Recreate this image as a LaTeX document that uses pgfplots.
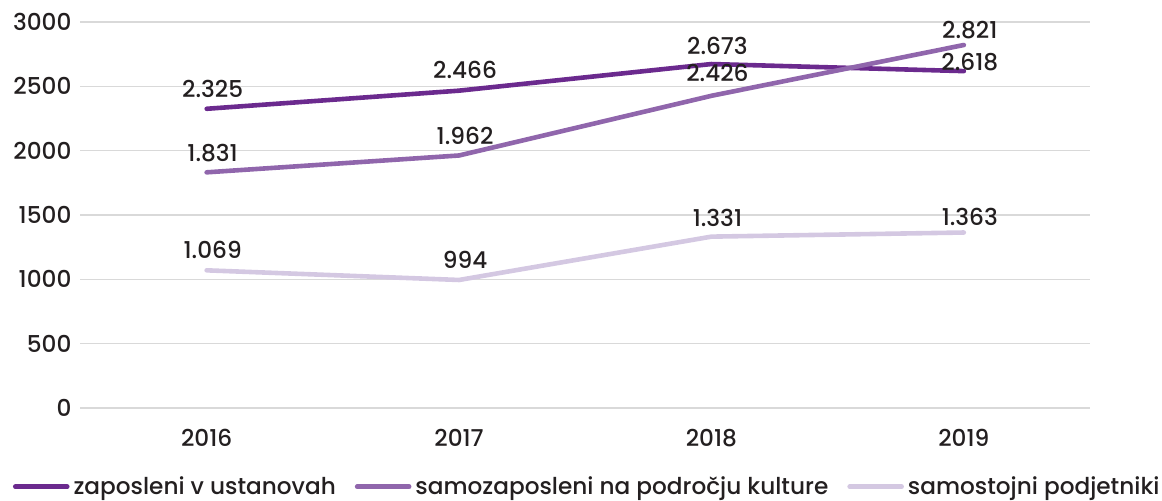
\documentclass[border=0pt]{standalone}
\usepackage{fontspec}
\setmainfont{Poppins}[UprightFont={* Medium}]
\usepackage{pgfplots}
\pgfplotsset{compat=1.18}
\usepackage{pgfplotstable}
\definecolor{c1}{HTML}{6B2A8E}
\definecolor{c2}{HTML}{9066AC}
\definecolor{c3}{HTML}{D4C8E2}
\definecolor{gridc}{HTML}{D9D9D9}
\definecolor{txt}{HTML}{231F20}
\pgfplotstableread{
x y dy
0 2325 10
1 2466 10.5
2 2673 9
3 2618 4.5
}\tabA
\pgfplotstableread{
x y dy
0 1831 9.5
1 1962 10
2 2426 11.5
3 2821 7.5
}\tabB
\pgfplotstableread{
x y dy
0 1069 10
1 994 10
2 1331 9.5
3 1363 8
}\tabC
\newcommand{\fs}{\fontsize{11.6}{13.5}\selectfont}
\begin{document}
\begin{tikzpicture}
\begin{axis}[
  scale only axis, width=505pt, height=193pt,
  xmin=-0.5, xmax=3.5, ymin=0, ymax=3000,
  xtick={0,1,2,3}, xticklabels={2016,2017,2018,2019},
  ytick={0,500,...,3000},
  axis line style={draw=none}, tick style={draw=none},
  ymajorgrids, grid style={draw=gridc, line width=0.7pt},
  /pgf/number format/assume math mode=true,
  /pgf/number format/1000 sep={},
  ticklabel style={font=\fs, text=txt},
  yticklabel style={xshift=-1pt},
  xticklabel style={yshift=-7pt},
  clip=false,
  legend columns=3,
  legend style={draw=none, fill=none, at={(0.5,0)}, anchor=center, yshift=-39.5pt, xshift=1.5pt,
    font=\fs, text=txt, inner sep=0pt,
    /tikz/every even column/.append style={column sep=7.5pt}},
  legend cell align=left,
  legend image code/.code={\draw[#1, line width=2.3pt, line cap=round] (0pt,0pt) -- (26pt,0pt);},
  every axis plot/.append style={line width=2.3pt, line cap=round, line join=round},
  visualization depends on={\thisrow{dy} \as \dy},
  nodes near coords={\pgfmathprintnumber[1000 sep={.}]{\pgfplotspointmeta}},
  every node near coord/.append style={anchor=center, yshift=\dy pt, xshift=3pt, font=\fs, text=txt},
]
\addplot[c1, mark=none] table[x=x, y=y] {\tabA};
\addlegendentry{zaposleni v ustanovah}
\addplot[c2, mark=none] table[x=x, y=y] {\tabB};
\addlegendentry{samozaposleni na področju kulture}
\addplot[c3, mark=none] table[x=x, y=y] {\tabC};
\addlegendentry{samostojni podjetniki}
\end{axis}
\pgfresetboundingbox
\path ([shift={(-40.25pt,-46.5pt)}]current axis.south west) rectangle ([shift={(36pt,11pt)}]current axis.north east);
\end{tikzpicture}
\end{document}
